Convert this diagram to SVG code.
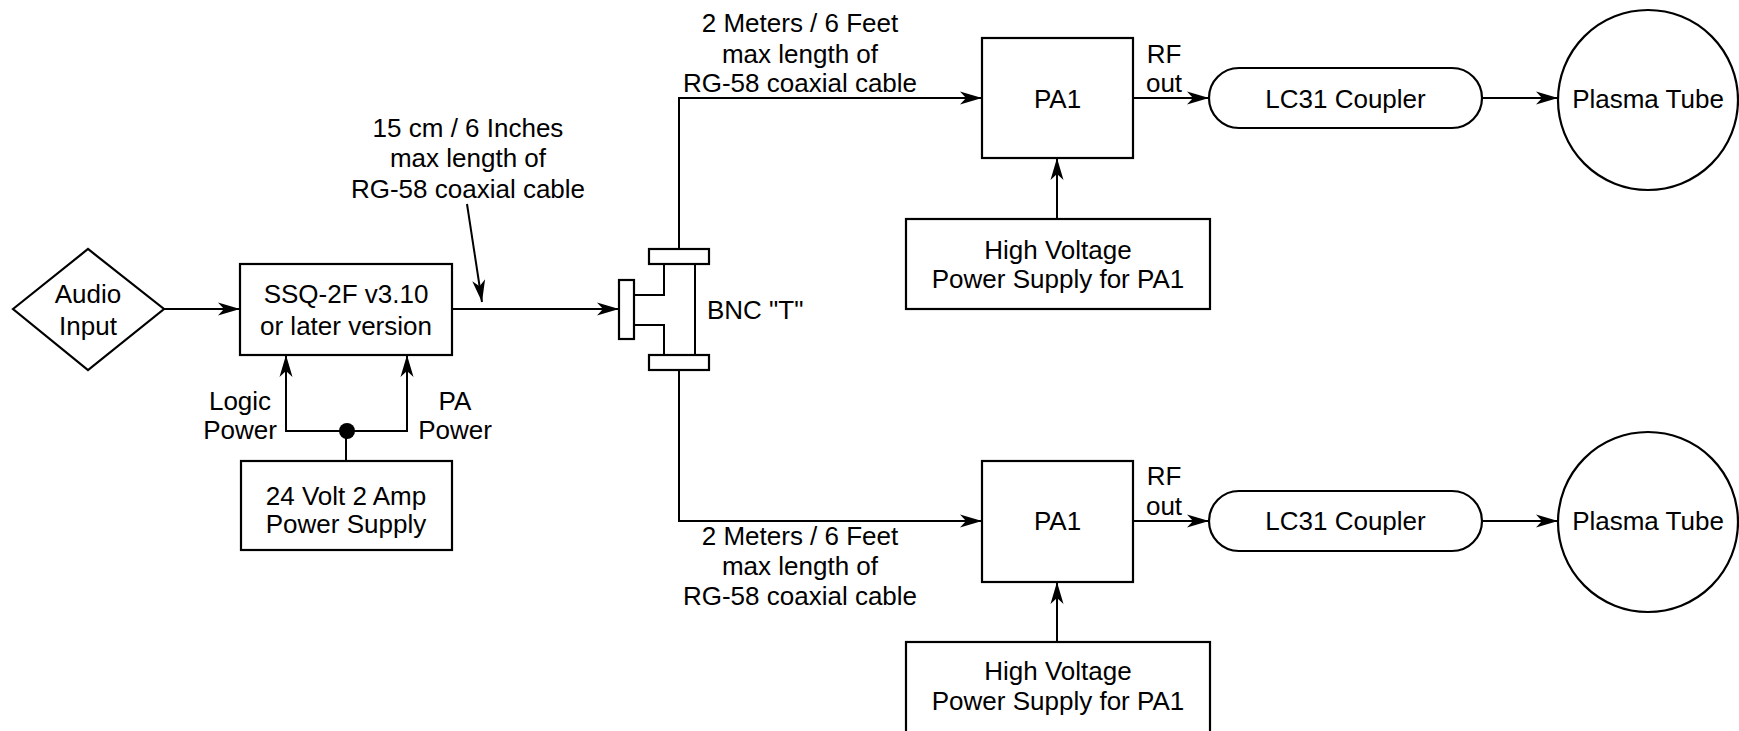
<svg xmlns="http://www.w3.org/2000/svg" width="1739" height="731" viewBox="0 0 1739 731">
<style>
  text { font-family: "Liberation Sans", Arial, sans-serif; font-size: 26px; fill: #000; }
  .c { text-anchor: middle; }
  .shape { fill: #fff; stroke: #000; stroke-width: 2.2; }
  .wire { fill: none; stroke: #000; stroke-width: 2; }
  .arr { marker-end: url(#ah); }
</style>
<defs>
  <marker id="ah" markerUnits="userSpaceOnUse" viewBox="-23 -8 24 16" refX="0" refY="0" markerWidth="24" markerHeight="16" orient="auto">
    <path d="M0,0 L-22,-6.5 L-16,0 L-22,6.5 Z" fill="#000"/>
  </marker>
</defs>
<rect width="1739" height="731" fill="#fff"/>

<g id="connectors">
  <path class="wire arr" d="M164,309 H240"/>
  <path class="wire arr" d="M347,431 H286 V355"/>
  <path class="wire arr" d="M347,431 H407 V355"/>
  <path class="wire" d="M346,461 V431"/>
  <circle cx="347" cy="431" r="8" fill="#000"/>
  <path class="wire arr" d="M452,309 H619"/>
  <path class="wire arr" d="M467,204 L482,302"/>
  <path class="wire arr" d="M679,249 V98 H982"/>
  <path class="wire arr" d="M679,370 V521 H982"/>
  <path class="wire arr" d="M1133,98 H1209"/>
  <path class="wire arr" d="M1482,98 H1558"/>
  <path class="wire arr" d="M1057,219 V158"/>
  <path class="wire arr" d="M1133,521 H1209"/>
  <path class="wire arr" d="M1482,521 H1558"/>
  <path class="wire arr" d="M1057,642 V582"/>
</g>

<g id="audio-input">
  <polygon class="shape" points="13,309 88,249 164,309 88,370"/>
  <text class="c" x="88" y="303">Audio</text>
  <text class="c" x="88" y="335">Input</text>
</g>

<g id="ssq">
  <rect class="shape" x="240" y="264" width="212" height="91"/>
  <text class="c" x="346" y="303">SSQ-2F v3.10</text>
  <text class="c" x="346" y="335">or later version</text>
</g>

<g id="psu24">
  <rect class="shape" x="241" y="461" width="211" height="89"/>
  <text class="c" x="346" y="505">24 Volt 2 Amp</text>
  <text class="c" x="346" y="533">Power Supply</text>
</g>

<g id="power-labels">
  <text class="c" x="240" y="410">Logic</text>
  <text class="c" x="240" y="439">Power</text>
  <text class="c" x="455" y="410">PA</text>
  <text class="c" x="455" y="439">Power</text>
</g>

<g id="label-15cm">
  <text class="c" x="468" y="137">15 cm / 6 Inches</text>
  <text class="c" x="468" y="167">max length of</text>
  <text class="c" x="468" y="198">RG-58 coaxial cable</text>
</g>

<g id="bnc-t">
  <rect class="shape" x="649" y="249" width="60" height="15"/>
  <rect class="shape" x="649" y="355" width="60" height="15"/>
  <rect class="shape" x="619" y="280" width="15" height="59"/>
  <path class="wire" d="M664,264 V295 H634 M634,325 H664 V355 M695,264 V355"/>
  <text x="707" y="319">BNC "T"</text>
</g>

<g id="label-top-cable">
  <text class="c" x="800" y="32">2 Meters / 6 Feet</text>
  <text class="c" x="800" y="63">max length of</text>
  <text class="c" x="800" y="92">RG-58 coaxial cable</text>
</g>

<g id="label-bottom-cable">
  <text class="c" x="800" y="545">2 Meters / 6 Feet</text>
  <text class="c" x="800" y="575">max length of</text>
  <text class="c" x="800" y="605">RG-58 coaxial cable</text>
</g>

<g id="pa1-top">
  <rect class="shape" x="982" y="38" width="151" height="120"/>
  <text class="c" x="1057.5" y="108">PA1</text>
</g>
<g id="rf-out-top">
  <text class="c" x="1164" y="63">RF</text>
  <text class="c" x="1164" y="92">out</text>
</g>
<g id="hv-top">
  <rect class="shape" x="906" y="219" width="304" height="90"/>
  <text class="c" x="1058" y="259">High Voltage</text>
  <text class="c" x="1058" y="288">Power Supply for PA1</text>
</g>
<g id="lc31-top">
  <rect class="shape" x="1209" y="68" width="273" height="60" rx="30" ry="30"/>
  <text class="c" x="1345.5" y="108">LC31 Coupler</text>
</g>
<g id="plasma-top">
  <circle class="shape" cx="1648" cy="100" r="90"/>
  <text class="c" x="1648" y="108">Plasma Tube</text>
</g>

<g id="pa1-bottom">
  <rect class="shape" x="982" y="461" width="151" height="121"/>
  <text class="c" x="1057.5" y="530">PA1</text>
</g>
<g id="rf-out-bottom">
  <text class="c" x="1164" y="485">RF</text>
  <text class="c" x="1164" y="515">out</text>
</g>
<g id="hv-bottom">
  <rect class="shape" x="906" y="642" width="304" height="92"/>
  <text class="c" x="1058" y="680">High Voltage</text>
  <text class="c" x="1058" y="710">Power Supply for PA1</text>
</g>
<g id="lc31-bottom">
  <rect class="shape" x="1209" y="491" width="273" height="60" rx="30" ry="30"/>
  <text class="c" x="1345.5" y="530">LC31 Coupler</text>
</g>
<g id="plasma-bottom">
  <circle class="shape" cx="1648" cy="522" r="90"/>
  <text class="c" x="1648" y="530">Plasma Tube</text>
</g>
</svg>
